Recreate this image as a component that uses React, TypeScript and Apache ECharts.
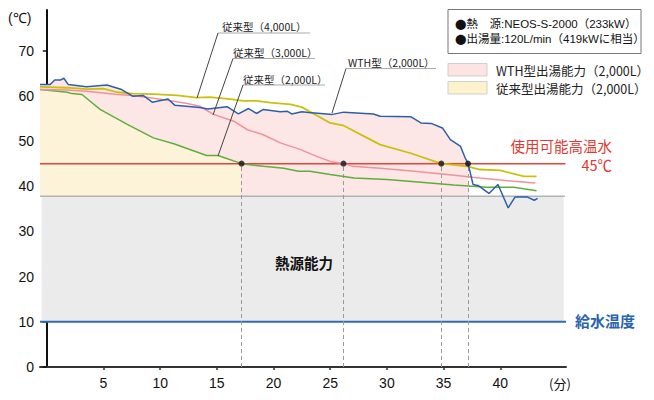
import React, { useEffect, useRef } from "react";
import * as echarts from "echarts";

// ---- data ----
const xTicks = [5, 10, 15, 20, 25, 30, 35, 40];
const yTicks = [0, 10, 20, 30, 40, 50, 60, 70];

// WTH型 (2,000L)
const wthTime = [-0.6, 0.3, 0.7, 1.2, 1.5, 1.9, 3.5, 5.3, 6.6, 7.6, 8.5, 9.3, 10.7, 11.3, 13.5, 14.2, 15.9, 16.9, 17.8, 18.5, 19.1, 20.6, 21.2, 21.6, 22.5, 23.1, 25.2, 26.2, 28.8, 29.4, 32.1, 33.0, 33.9, 34.9, 35.6, 36.5, 36.9, 37.16, 37.6, 38.1, 39.0, 39.8, 40.7, 41.3, 42.4, 43.0, 43.3];
const wthTemp = [62.5, 62.5, 63.5, 63.5, 63.9, 62.5, 62.0, 62.4, 61.4, 59.9, 60.1, 58.6, 59.3, 57.9, 57.4, 57.1, 57.6, 56.0, 57.2, 56.1, 57.0, 56.5, 56.6, 56.0, 56.5, 56.3, 55.9, 56.4, 56.0, 55.5, 55.4, 54.0, 53.9, 52.9, 50.3, 48.8, 46.3, 45.0, 40.4, 40.1, 38.4, 40.4, 35.2, 37.6, 37.6, 36.9, 37.3];

// 従来型 (4,000L)
const c4000Time = [-0.6, 1.8, 3.5, 5.0, 6.2, 7.6, 9.4, 11.5, 13.2, 14.4, 16.4, 17.3, 18.5, 19.7, 21.5, 22.5, 23.5, 25.0, 26.2, 29.4, 32.1, 34.8, 37.1, 38.2, 40.0, 42.1, 43.2];
const c4000Temp = [62.0, 61.8, 61.5, 61.6, 60.8, 60.5, 60.4, 60.1, 59.6, 59.7, 59.2, 58.9, 58.9, 58.5, 58.1, 57.5, 56.1, 54.0, 53.4, 49.2, 47.3, 45.0, 44.4, 43.7, 43.5, 42.2, 42.2];

// 従来型 (3,000L)
const c3000Time = [-0.6, 1.8, 3.5, 6.2, 7.6, 9.1, 11.2, 12.4, 13.5, 14.7, 16.5, 17.7, 19.1, 20.6, 22.4, 23.8, 25.0, 26.17, 27.0, 29.4, 32.4, 35.3, 38.2, 41.2, 43.1];
const c3000Temp = [61.4, 61.3, 61.0, 60.3, 60.1, 59.6, 58.8, 58.3, 57.7, 55.9, 54.4, 52.5, 51.4, 49.6, 48.1, 46.6, 45.5, 45.0, 44.4, 44.0, 43.3, 42.6, 41.8, 41.1, 40.7];

// 従来型 (2,000L)
const c2000Time = [-0.6, 1.8, 2.2, 3.1, 4.7, 7.1, 9.4, 11.2, 14.1, 15.1, 17.18, 19.1, 20.9, 22.2, 23.2, 25.0, 27.1, 30.0, 33.0, 35.9, 38.8, 41.2, 43.2];
const c2000Temp = [61.4, 60.8, 60.5, 60.3, 57.0, 53.7, 50.7, 49.4, 46.8, 46.8, 45.0, 44.4, 44.0, 43.3, 43.3, 42.6, 41.8, 41.5, 40.9, 40.3, 39.8, 39.8, 39.0];

const crossTimes = [17.18, 26.17, 34.8, 37.16];
const usableTemp = 45;
const supplyTemp = 10;
const heatSourceTop = 37.8;
const xMin = -0.6;
const xMax = 45.8;
const yMax = 79;

const zip = (t: number[], v: number[]) => t.map((x, i) => [x, v[i]]);
const upTo = (t: number[], v: number[], limit: number) => {
  const pts = zip(t, v).filter((p) => p[0] <= limit);
  if (pts[pts.length - 1][0] < limit) pts.push([limit, usableTemp]);
  return pts;
};

const JP = '"Noto Sans CJK JP", "Liberation Sans", sans-serif';
const NUM = '"Liberation Sans", Arial, sans-serif';
const MIX = '"Liberation Sans", "Noto Sans CJK JP", sans-serif';

export default function App() {
  const ref = useRef<HTMLDivElement>(null);
  useEffect(() => {
    if (!ref.current) return;
    const chart = echarts.init(ref.current, undefined, { renderer: "svg" });
    const noteText = (x: number, y: number, text: string) => ({
      type: "text",
      x,
      y,
      style: { text, fill: "#222", font: `10.5px ${JP}`, verticalAlign: "middle" },
      z: 100,
    });
    const infoText = (y: number, text: string) => ({
      type: "text",
      x: 455,
      y,
      style: {
        text: `{b|●}{t|${text}}`,
        verticalAlign: "middle",
        rich: {
          b: { fontFamily: JP, fontSize: 11.5, fill: "#111", color: "#111" },
          t: { fontFamily: MIX, fontSize: 11.5, fill: "#111", color: "#111" },
        },
      },
      z: 101,
    });
    const line = (x1: number, y1: number, x2: number, y2: number, stroke: string) => ({
      type: "line",
      shape: { x1, y1, x2, y2 },
      style: { stroke, lineWidth: 1 },
      z: 100,
    });
    chart.setOption({
      animation: false,
      grid: { left: 40, right: 88, top: 10, bottom: 33 },
      xAxis: {
        type: "value",
        min: xMin,
        max: xMax,
        splitLine: { show: false },
        axisLine: { lineStyle: { color: "#333", width: 2 } },
        axisTick: { customValues: xTicks, length: 3, lineStyle: { color: "#333", width: 1.5 } },
        axisLabel: { customValues: xTicks, color: "#111", fontSize: 14, fontFamily: NUM, margin: 9 },
      },
      yAxis: {
        type: "value",
        min: 0,
        max: yMax,
        splitLine: { show: false },
        axisLine: { show: true, lineStyle: { color: "#111", width: 2 } },
        axisTick: { show: true, customValues: yTicks, length: 4, lineStyle: { color: "#111", width: 1.5 } },
        axisLabel: { customValues: yTicks, color: "#111", fontSize: 14, fontFamily: NUM, margin: 6 },
      },
      series: [
        {
          type: "line",
          name: "WTH fill",
          data: upTo(wthTime, wthTemp, crossTimes[3]),
          symbol: "none",
          lineStyle: { width: 0 },
          areaStyle: { color: "#fde6e6", opacity: 1, origin: heatSourceTop },
          z: 1,
        },
        {
          type: "line",
          name: "conv fill",
          data: upTo(c2000Time, c2000Temp, crossTimes[0]),
          symbol: "none",
          lineStyle: { width: 0 },
          areaStyle: { color: "#fdf3d8", opacity: 1, origin: heatSourceTop },
          z: 2,
        },
        {
          type: "line",
          name: "heat source",
          data: [[xMin, heatSourceTop], [45.7, heatSourceTop]],
          symbol: "none",
          lineStyle: { color: "#b3b3b3", width: 1.5 },
          markArea: {
            silent: true,
            itemStyle: { color: "#ebebeb" },
            data: [[{ coord: [-0.45, supplyTemp] }, { coord: [45.6, heatSourceTop] }]],
          },
          z: 3,
        },
        {
          type: "line",
          name: "usable",
          data: [[xMin, usableTemp], [45.75, usableTemp]],
          symbol: "none",
          lineStyle: { color: "#e2443a", width: 1.5 },
          z: 4,
        },
        {
          type: "line",
          name: "supply",
          data: [[xMin, supplyTemp], [45.8, supplyTemp]],
          symbol: "none",
          lineStyle: { color: "#2c6cb4", width: 2 },
          z: 4,
        },
        {
          type: "line",
          name: "従来型(2,000L)",
          data: zip(c2000Time, c2000Temp),
          symbol: "none",
          lineStyle: { color: "#5fae3c", width: 1.5 },
          z: 5,
        },
        {
          type: "line",
          name: "従来型(3,000L)",
          data: zip(c3000Time, c3000Temp),
          symbol: "none",
          lineStyle: { color: "#f2909c", width: 1.5 },
          z: 5,
        },
        {
          type: "line",
          name: "従来型(4,000L)",
          data: zip(c4000Time, c4000Temp),
          symbol: "none",
          lineStyle: { color: "#c8c20c", width: 1.8 },
          z: 5,
        },
        {
          type: "line",
          name: "WTH型(2,000L)",
          data: zip(wthTime, wthTemp),
          symbol: "none",
          lineStyle: { color: "#2d5ea8", width: 1.5 },
          z: 6,
        },
        {
          type: "scatter",
          name: "cross",
          data: crossTimes.map((t) => [t, usableTemp]),
          symbol: "circle",
          symbolSize: 6,
          itemStyle: { color: "#111" },
          markLine: {
            silent: true,
            symbol: "none",
            label: { show: false },
            lineStyle: { color: "#9a9a9a", type: [4, 3], width: 1 },
            data: crossTimes.map((t) => [{ coord: [t, 0] }, { coord: [t, usableTemp] }]),
          },
          z: 7,
        },
      ],
      graphic: [
        { type: "text", x: 8, y: 18, style: { text: "(℃)", fill: "#111", font: `14px ${NUM}`, verticalAlign: "middle" } },
        { type: "text", x: 549, y: 383, style: { text: "(分)", fill: "#111", font: `13px ${JP}`, verticalAlign: "middle" } },
        // annotations
        noteText(222, 26, "従来型（4,000L）"),
        line(218, 33, 310, 33, "#aaa"),
        line(218, 33, 197, 98, "#444"),
        noteText(233, 52.5, "従来型（3,000L）"),
        line(233, 58.5, 315, 58.5, "#aaa"),
        line(233, 58.5, 213, 115, "#444"),
        noteText(243, 79, "従来型（2,000L）"),
        line(243, 85, 325, 85, "#aaa"),
        line(243, 85, 218, 156, "#444"),
        noteText(348, 62.5, "WTH型（2,000L）"),
        line(346, 68.5, 436, 68.5, "#aaa"),
        line(346, 68.5, 332, 113, "#444"),
        // info box
        { type: "rect", shape: { x: 448, y: 9.5, width: 193, height: 44 }, style: { fill: "#fff", stroke: "#777", lineWidth: 1 }, z: 100 },
        infoText(24, "熱　源:NEOS-S-2000（233kW）"),
        infoText(38.5, "出湯量:120L/min（419kWに相当）"),
        // legend
        { type: "rect", shape: { x: 448, y: 63.5, width: 39, height: 12.5 }, style: { fill: "#fde3e4", stroke: "#cfcfcf", lineWidth: 1 }, z: 100 },
        { type: "text", x: 496, y: 70, style: { text: "WTH型出湯能力（2,000L）", fill: "#222", font: `12.5px ${JP}`, verticalAlign: "middle" }, z: 101 },
        { type: "rect", shape: { x: 448, y: 81.5, width: 39, height: 12.5 }, style: { fill: "#fdf2cb", stroke: "#cfcfcf", lineWidth: 1 }, z: 100 },
        { type: "text", x: 496, y: 88, style: { text: "従来型出湯能力（2,000L）", fill: "#222", font: `12.5px ${JP}`, verticalAlign: "middle" }, z: 101 },
        // region labels
        { type: "text", x: 612, y: 145, style: { text: "使用可能高温水", fill: "#e0392f", font: `14.5px ${JP}`, align: "right", verticalAlign: "middle" }, z: 101 },
        { type: "text", x: 612, y: 164, style: { text: "45℃", fill: "#e0392f", font: `14.5px ${JP}`, align: "right", verticalAlign: "middle" }, z: 101 },
        { type: "text", x: 275, y: 262, style: { text: "熱源能力", fill: "#111", font: `bold 14.5px ${JP}`, verticalAlign: "middle" }, z: 101 },
        { type: "text", x: 575, y: 320.5, style: { text: "給水温度", fill: "#2a64b0", font: `bold 15px ${JP}`, verticalAlign: "middle" }, z: 101 },
      ],
    });
    return () => chart.dispose();
  }, []);
  return (
    <div
      ref={ref}
      style={{ position: "fixed", left: 0, top: 0, width: 654, height: 400, background: "#fff" }}
    />
  );
}
